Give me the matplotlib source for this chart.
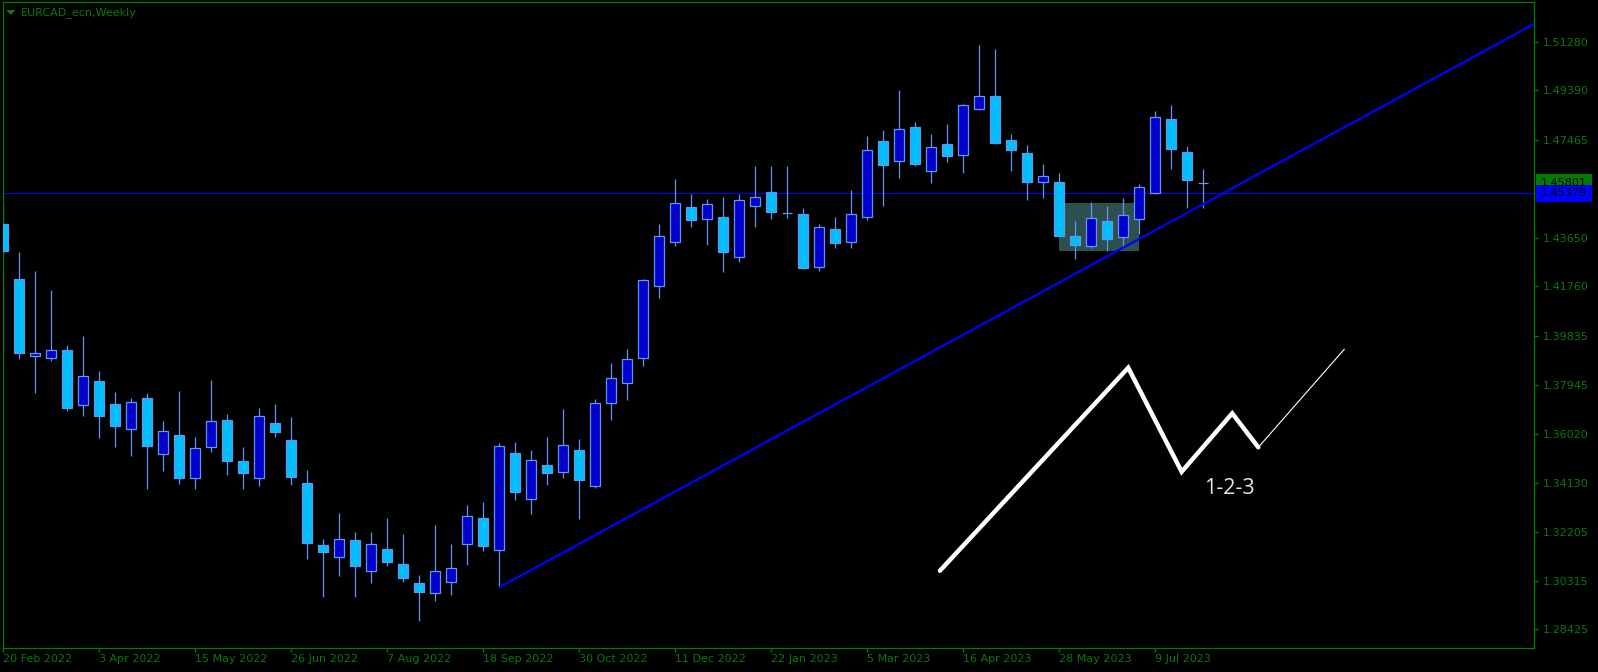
import matplotlib
matplotlib.use('Agg')
import matplotlib.pyplot as plt
from matplotlib.patches import Rectangle, Polygon
from matplotlib.transforms import blended_transform_factory
import numpy as np

plt.rcParams['font.family'] = 'DejaVu Sans'

BG = '#000000'; GRID_GREEN = '#008000'; TXT_GREEN = '#0A7A0A'
BULL = '#0000CD'; BEAR = '#00BFFF'; EDGE = '#6495ED'; LINE_BLUE = '#0000FF'
ZONE = '#2F4F4F'

# weekly EURCAD candles, 20 Feb 2022 .. 30 Jul 2023
opens = [1.44189, 1.42050, 1.39043, 1.38989, 1.39277, 1.37138, 1.38071, 1.37188, 1.36227, 1.37421,
         1.35231, 1.35971, 1.34298, 1.35504, 1.36566, 1.34971, 1.34298, 1.36449, 1.35788, 1.34115,
         1.31704, 1.31225, 1.31886, 1.30681, 1.31536, 1.30953, 1.30214, 1.29825, 1.30253, 1.31731,
         1.32742, 1.31498, 1.35270, 1.33505, 1.34804, 1.34531, 1.35387, 1.33987, 1.37215, 1.37993,
         1.38966, 1.41766, 1.43478, 1.44839, 1.44372, 1.44450, 1.42917, 1.44901, 1.45422, 1.44629,
         1.44567, 1.42528, 1.43983, 1.43501, 1.44473, 1.47406, 1.46651, 1.47950, 1.46262, 1.47289,
         1.46862, 1.48674, 1.49156, 1.47445, 1.46939, 1.45835, 1.45811, 1.43711, 1.43345, 1.44294,
         1.43695, 1.44395, 1.45407, 1.48273, 1.46978, 1.45801]
highs = [1.45018, 1.43100, 1.42361, 1.41622, 1.39483, 1.39833, 1.38472, 1.37655, 1.37421, 1.37616,
         1.36527, 1.37694, 1.35904, 1.38122, 1.36799, 1.35516, 1.37032, 1.37188, 1.36682, 1.34621,
         1.31937, 1.32948, 1.32209, 1.32209, 1.32754, 1.32132, 1.30537, 1.32482, 1.31743, 1.33260,
         1.33376, 1.35659, 1.35710, 1.35399, 1.35904, 1.36994, 1.35827, 1.37371, 1.38783, 1.39327,
         1.42050, 1.44189, 1.45940, 1.45356, 1.45162, 1.45240, 1.45356, 1.46445, 1.46445, 1.46445,
         1.44800, 1.44189, 1.44450, 1.45512, 1.47612, 1.47846, 1.49401, 1.48157, 1.47690, 1.48079,
         1.48857, 1.51152, 1.50996, 1.47690, 1.47262, 1.46523, 1.46173, 1.44306, 1.45045, 1.44889,
         1.45201, 1.45745, 1.48585, 1.48818, 1.47235, 1.46340]
lows = [1.42879, 1.38938, 1.37628, 1.38872, 1.36927, 1.36721, 1.35877, 1.35527, 1.35177, 1.33894,
        1.34594, 1.34088, 1.33894, 1.35333, 1.34438, 1.33894, 1.34010, 1.35916, 1.34049, 1.31171,
        1.29669, 1.30510, 1.29669, 1.30237, 1.30899, 1.30276, 1.28759, 1.29537, 1.29759, 1.30926,
        1.31482, 1.30058, 1.33466, 1.32921, 1.34049, 1.34321, 1.32727, 1.33932, 1.36577, 1.37355,
        1.38678, 1.41323, 1.43345, 1.44084, 1.43384, 1.42334, 1.42723, 1.44084, 1.44395, 1.44434,
        1.42427, 1.42373, 1.43268, 1.43268, 1.44356, 1.44889, 1.45990, 1.46457, 1.45796, 1.46613,
        1.46185, 1.48635, 1.47330, 1.46262, 1.45135, 1.45212, 1.43695, 1.42840, 1.43268, 1.43151,
        1.43306, 1.43812, 1.45368, 1.46340, 1.44823, 1.44823]
closes = [1.43151, 1.39183, 1.39160, 1.39277, 1.37044, 1.38265, 1.36733, 1.36344, 1.37266, 1.35566,
          1.36138, 1.34298, 1.35477, 1.36527, 1.34959, 1.34493, 1.36710, 1.36087, 1.34337, 1.31770,
          1.31420, 1.31925, 1.30875, 1.31731, 1.31031, 1.30432, 1.29887, 1.30681, 1.30797, 1.32820,
          1.31676, 1.35543, 1.33777, 1.34998, 1.34516, 1.35582, 1.34244, 1.37215, 1.38188, 1.38927,
          1.41999, 1.43711, 1.44994, 1.44333, 1.44956, 1.43112, 1.45111, 1.45228, 1.44644, 1.44629,
          1.42466, 1.44061, 1.43462, 1.44567, 1.47056, 1.46496, 1.47873, 1.46535, 1.47173, 1.46846,
          1.48806, 1.49156, 1.47352, 1.47079, 1.45835, 1.46045, 1.43734, 1.43384, 1.44411, 1.43618,
          1.44528, 1.45617, 1.48340, 1.47118, 1.45912, 1.45801]

date_labels = ['20 Feb 2022', '3 Apr 2022', '15 May 2022', '26 Jun 2022', '7 Aug 2022',
               '18 Sep 2022', '30 Oct 2022', '11 Dec 2022', '22 Jan 2023', '5 Mar 2023',
               '16 Apr 2023', '28 May 2023', '9 Jul 2023']
price_ticks = [1.28425, 1.30315, 1.32205, 1.34130, 1.36020, 1.37945, 1.39835,
               1.41760, 1.43650, 1.47465, 1.49390, 1.51280]

bid = 1.45379
last_price = 1.45801

# trendline anchors (bar index, price)
trend_x = [31, 75]
trend_y = [1.30058, 1.44967]

# consolidation box
zone_x = [66, 71]
zone_y = [1.43150, 1.45005]

# 1-2-3 sketch
zz_x = [58.54, 70.31, 73.65, 76.81, 78.44]
zz_y = [1.30702, 1.38599, 1.34553, 1.36825, 1.35502]
proj_x = [78.44, 83.81]
proj_y = [1.35502, 1.39314]
label_xy = (76.6, 1.33882)

W, H = 1598, 672
fig = plt.figure(figsize=(W / 100, H / 100), dpi=100)
fig.patch.set_facecolor(BG)
L, R, T, B = 2.5, 1534.3, 2.3, 648
ax = fig.add_axes([L / W, (H - B) / H, (R - L) / W, (B - T) / H])
ax.set_facecolor(BG)
ax.set_xlim(-0.05, 95.69)
ax.set_ylim(1.27697, 1.52813)

n = len(opens)
x = np.arange(n)
o = np.array(opens); c = np.array(closes)

ax.axhline(bid, color=LINE_BLUE, lw=0.8, zorder=1)
ax.add_patch(Rectangle((zone_x[0], zone_y[0]), zone_x[1] - zone_x[0], zone_y[1] - zone_y[0],
                       fc=ZONE, ec='none', zorder=0.5))

ax.vlines(x, lows, highs, color=EDGE, lw=0.9, zorder=2)
fills = [BULL if cc > oo else BEAR for oo, cc in zip(o, c)]
ax.bar(x, np.abs(c - o), bottom=np.minimum(o, c), width=0.64, color=fills,
       edgecolor=EDGE, linewidth=0.9, zorder=3)

# trendline as a ray to the right edge
slope = (trend_y[1] - trend_y[0]) / (trend_x[1] - trend_x[0])
x_end = 100
ax.plot([trend_x[0], x_end], [trend_y[0], trend_y[0] + slope * (x_end - trend_x[0])],
        color=LINE_BLUE, lw=1.6, zorder=4, solid_capstyle='butt')

ax.plot(zz_x, zz_y, color='white', lw=3.2, solid_capstyle='round', solid_joinstyle='miter', zorder=5)
ax.plot(proj_x, proj_y, color='white', lw=0.8, zorder=5)
ax.text(label_xy[0], label_xy[1], '1-2-3', color='#E6E6E6', fontsize=15.5,
        family='Open Sans', ha='center', va='center', zorder=6)

# axes styling
for s in ax.spines.values():
    s.set_color(GRID_GREEN); s.set_linewidth(0.9)
ax.yaxis.tick_right()
ax.set_yticks(price_ticks)
ax.set_yticklabels([f'{v:.5f}' for v in price_ticks])
ax.set_xticks(np.arange(0, len(date_labels) * 6, 6))
ax.set_xticklabels(date_labels)
for lab in ax.get_xticklabels():
    lab.set_ha('left')
ax.tick_params(axis='both', colors=GRID_GREEN, labelcolor=TXT_GREEN, labelsize=8,
               length=3, width=0.9)
ax.tick_params(axis='x', pad=1.5)
ax.tick_params(axis='y', pad=3)

# price tags on the right scale
px_per_unit = (B - T) / (1.52813 - 1.27697)
tag_h = 17 / px_per_unit
bt = blended_transform_factory(fig.transFigure, ax.transData)
for val, fc in [(last_price, '#007A00'), (bid, LINE_BLUE)]:
    ax.add_patch(Rectangle((1536 / W, val - tag_h / 2), 56 / W, tag_h, transform=bt,
                           fc=fc, ec='none', clip_on=False, zorder=10))
    ax.text(1540.5 / W, val, f'{val:.5f}', transform=bt, color='black', fontsize=8,
            ha='left', va='center', clip_on=False, zorder=11)

# chart caption with the small triangle
fig.add_artist(Polygon([[6 / W, 1 - 10 / H], [15.5 / W, 1 - 10 / H], [10.75 / W, 1 - 15 / H]],
                       closed=True, transform=fig.transFigure, fc=TXT_GREEN, ec='none'))
fig.text(21 / W, 1 - 12.7 / H, 'EURCAD_ecn,Weekly', color=TXT_GREEN, fontsize=8,
         ha='left', va='center')

fig.savefig('out.png', dpi=100, facecolor=BG)
